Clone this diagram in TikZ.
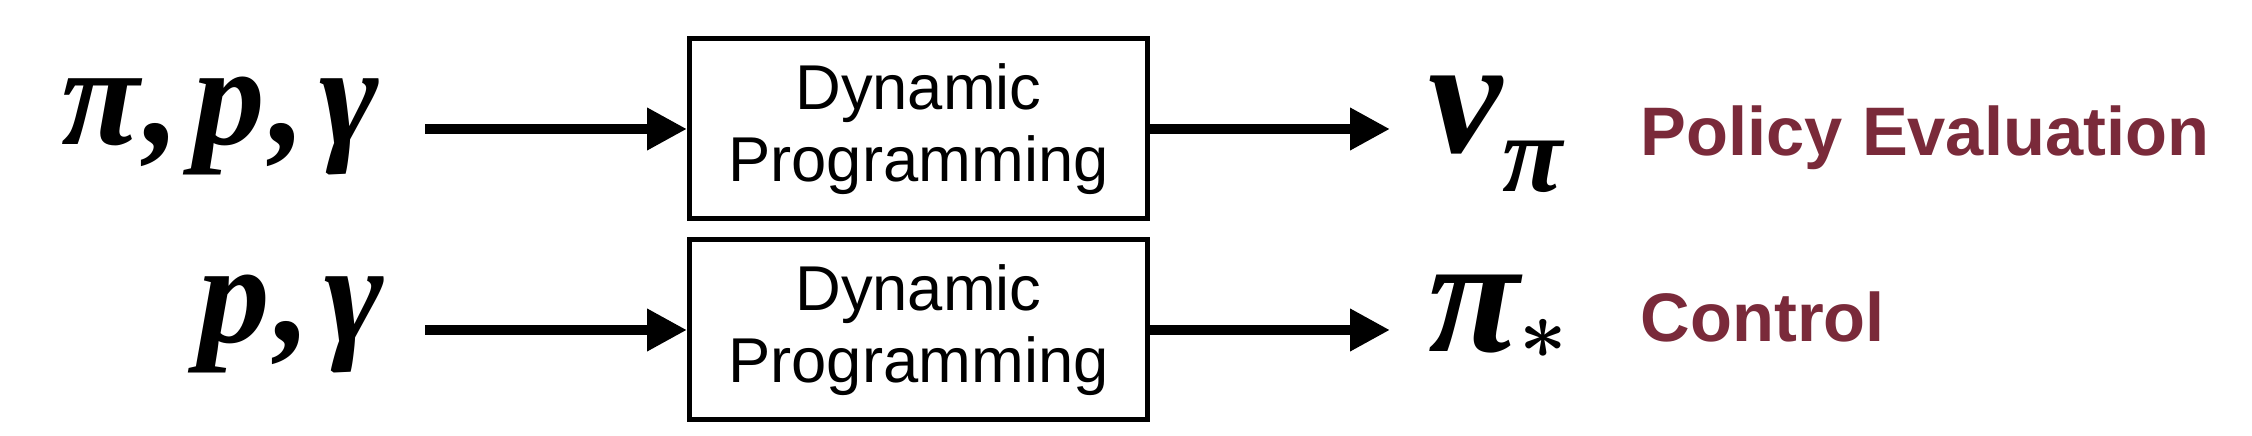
\documentclass[tikz,border=0pt]{standalone}
\usepackage{fontspec}
\setmainfont{Liberation Serif}
\newfontfamily\mfont{Liberation Serif}
\newfontfamily\sfont{Liberation Sans}
\usetikzlibrary{arrows.meta}
\definecolor{maroon}{RGB}{122,42,58}
\newcommand{\cm}{\kern1.5pt,\kern4pt}
\begin{document}
\begin{tikzpicture}[x=0.3pt,y=-0.3pt,
  dpbox/.style={draw,line width=1.5pt,minimum width=137.4pt,minimum height=54pt,inner sep=0pt,
    align=center,font=\sfont\fontsize{19}{21.6}\selectfont},
  intext/.style={inner sep=0pt,font=\mfont\bfseries\itshape\fontsize{43}{43}\selectfont},
  outtext/.style={inner sep=0pt,font=\mfont\bfseries\itshape\fontsize{50}{50}\selectfont},
  lab/.style={inner sep=0pt,text=maroon,font=\sfont\bfseries\fontsize{20.6}{20.6}\selectfont},
  arr/.style={line width=3pt,-{Triangle[length=12pt,width=12pt]}}]
\useasboundingbox (0,0) rectangle (2252,436);
\node[dpbox] (b1) at (918.5,129) {Dynamic\\Programming};
\node[dpbox] (b2) at (918.5,330) {Dynamic\\Programming};
\node[intext,anchor=base east] (in1) at (380,145) {π\cm p\cm γ};
\node[intext,anchor=base east] (in2) at (385,343) {p\cm γ};
\node[outtext,anchor=base west] (o1) at (1428,153) {v\raisebox{-11.7pt}{\fontsize{33}{33}\selectfont π}};
\node[outtext,anchor=base west] (o2) at (1428,352) {π\raisebox{-2pt}{\fontsize{38}{38}\selectfont\boldmath$\ast$}};
\node[lab,anchor=base west] (l1) at (1640,156) {Policy Evaluation};
\node[lab,anchor=base west] (l2) at (1640,342) {Control};
\draw[arr] ([xshift=13.5pt]in1.east |- b1.west) -- (b1.west);
\draw[arr] ([xshift=12pt]in2.east |- b2.west) -- (b2.west);
\draw[arr] (b1.east) -- ([xshift=-11.4pt]o1.west |- b1.east);
\draw[arr] (b2.east) -- ([xshift=-11.4pt]o2.west |- b2.east);
\end{tikzpicture}
\end{document}
